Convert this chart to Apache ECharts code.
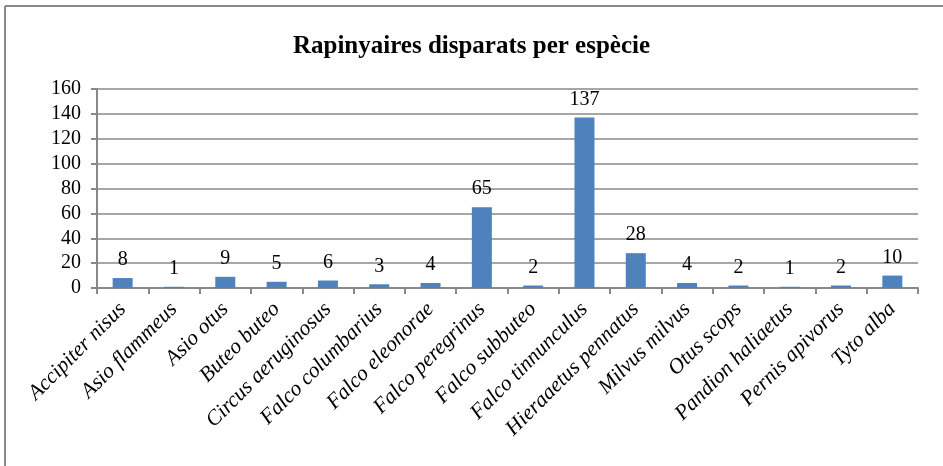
<!DOCTYPE html>
<html><head><meta charset="utf-8">
<script src="https://cdn.jsdelivr.net/npm/echarts@6/dist/echarts.min.js"></script>
<style>html,body{margin:0;padding:0;background:#fff}#c{width:943px;height:466px}</style>
</head><body><div id="c"></div>
<script>
const categories = ["Accipiter nisus","Asio flammeus","Asio otus","Buteo buteo","Circus aeruginosus","Falco columbarius","Falco eleonorae","Falco peregrinus","Falco subbuteo","Falco tinnunculus","Hieraaetus pennatus","Milvus milvus","Otus scops","Pandion haliaetus","Pernis apivorus","Tyto alba"];
const values = [8,1,9,5,6,3,4,65,2,137,28,4,2,1,2,10];
const titleText = "Rapinyaires disparats per espècie";
const yMin = 0, yMax = 160, yStep = 20;

const chart = echarts.init(document.getElementById('c'), null, {renderer:'canvas'});
chart.setOption({
  animation:false,
  backgroundColor:'#fff',
  title:{text:titleText,left:'center',top:29,textStyle:{fontFamily:'Liberation Serif',fontWeight:'bold',fontSize:25,color:'#000'}},
  grid:{left:97,right:25,top:89,bottom:178,containLabel:false},
  xAxis:{type:'category',data:categories,
    axisLine:{lineStyle:{color:'#888',width:2}},
    axisTick:{show:true,length:6,lineStyle:{color:'#888',width:2},alignWithLabel:false},
    axisLabel:{interval:0,rotate:45,fontFamily:'Liberation Serif',fontStyle:'italic',fontSize:21.5,color:'#000',margin:18}
  },
  yAxis:{type:'value',min:yMin,max:yMax,interval:yStep,
    axisLine:{show:true,lineStyle:{color:'#888',width:2}},
    axisTick:{show:true,length:6,lineStyle:{color:'#888',width:2}},
    splitLine:{lineStyle:{color:'#888',width:1.5}},
    axisLabel:{fontFamily:'Liberation Serif',fontSize:20,color:'#000',margin:16}
  },
  series:[{type:'bar',data:values,barWidth:20,
    itemStyle:{color:'#4F81BD'},
    label:{show:true,position:'top',distance:8,fontFamily:'Liberation Serif',fontSize:20,color:'#000'}
  }],
  graphic:[
    {type:'line',shape:{x1:5,y1:6,x2:943,y2:6},style:{stroke:'#888',lineWidth:2}},
    {type:'line',shape:{x1:5,y1:6,x2:5,y2:466},style:{stroke:'#888',lineWidth:2}}
  ]
});
</script></body></html>
